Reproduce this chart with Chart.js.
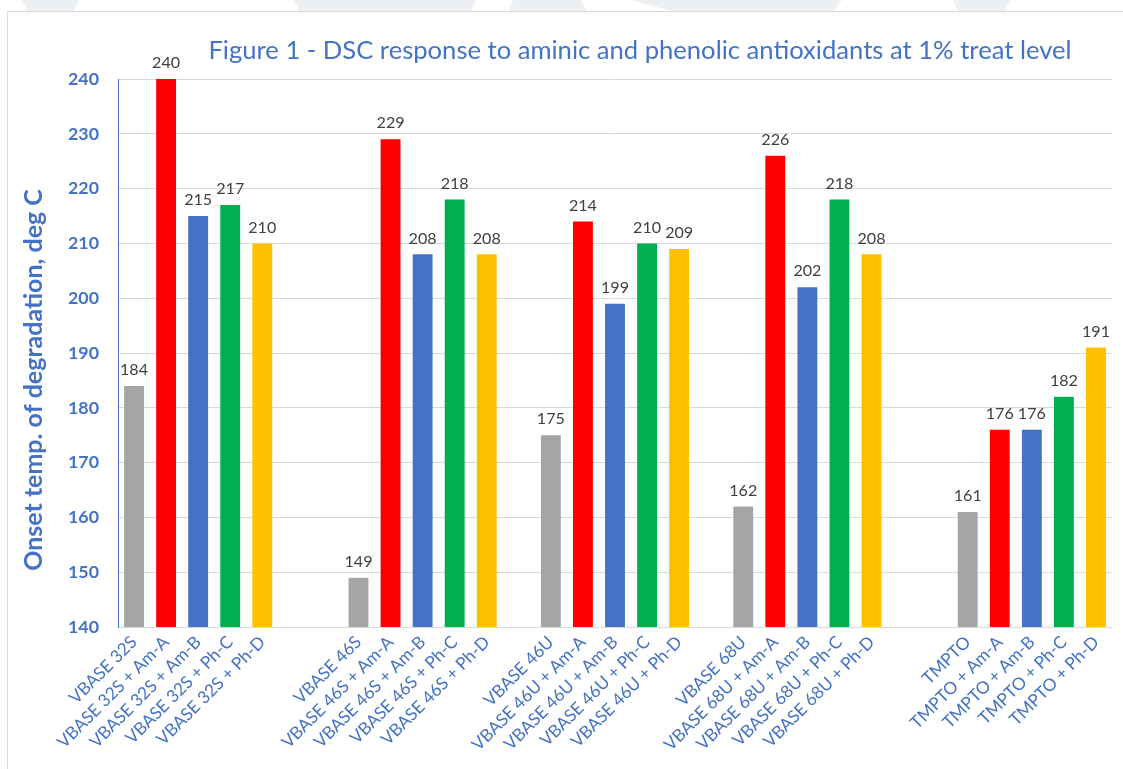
<!DOCTYPE html>
<html>
<head>
<meta charset="utf-8">
<script src="https://cdn.jsdelivr.net/npm/chart.js@4/dist/chart.umd.min.js"></script>
<style>
  html, body { margin: 0; padding: 0; width: 1123px; height: 769px; overflow: hidden; background: #ffffff; }
  #strip { position: absolute; left: 0; top: 0; width: 1123px; height: 11px; background: #ffffff; overflow: hidden; }
  .wm { position: absolute; top: 0; height: 11px; background: #edf0f3; }
  #frame { position: absolute; left: 7px; top: 11px; width: 1200px; height: 800px; border: 1.5px solid #d9d9d9; background: #ffffff; }
  #c { position: absolute; left: 0; top: 0; }
</style>
</head>
<body>
<div id="strip">
  <div class="wm" style="left:21px;width:58px;clip-path:polygon(0 0,100% 0,90% 100%,12% 100%);"></div>
  <div class="wm" style="left:294px;width:182px;clip-path:polygon(0 0,100% 0,97% 100%,3% 100%);"></div>
  <div class="wm" style="left:509px;width:78px;clip-path:polygon(5% 0,92% 0,100% 100%,0 100%);"></div>
  <div class="wm" style="left:630px;width:212px;clip-path:polygon(0 0,100% 0,96% 100%,20% 100%);"></div>
  <div class="wm" style="left:953px;width:57px;clip-path:polygon(0 0,100% 0,90% 100%,8% 100%);"></div>
</div>
<div id="frame"></div>
<canvas id="c" width="1123" height="769"></canvas>
<script>
// ---- data ----
const chartTitle = "Figure 1 - DSC response to aminic and phenolic antioxidants at 1% treat level";
const yAxisTitle = "Onset temp. of degradation, deg C";
const categories = [
  "VBASE 32S", "VBASE 32S + Am-A", "VBASE 32S + Am-B", "VBASE 32S + Ph-C", "VBASE 32S + Ph-D",
  "", "",
  "VBASE 46S", "VBASE 46S + Am-A", "VBASE 46S + Am-B", "VBASE 46S + Ph-C", "VBASE 46S + Ph-D",
  "",
  "VBASE 46U", "VBASE 46U + Am-A", "VBASE 46U + Am-B", "VBASE 46U + Ph-C", "VBASE 46U + Ph-D",
  "",
  "VBASE 68U", "VBASE 68U + Am-A", "VBASE 68U + Am-B", "VBASE 68U + Ph-C", "VBASE 68U + Ph-D",
  "", "",
  "TMPTO", "TMPTO + Am-A", "TMPTO + Am-B", "TMPTO + Ph-C", "TMPTO + Ph-D"
];
const onsetTemps = [
  184, 240, 215, 217, 210,
  null, null,
  149, 229, 208, 218, 208,
  null,
  175, 214, 199, 210, 209,
  null,
  162, 226, 202, 218, 208,
  null, null,
  161, 176, 176, 182, 191
];
const yMin = 140, yMax = 240, yStep = 10;

// ---- styles ----
const palette = { base: "#A5A5A5", "Am-A": "#FF0000", "Am-B": "#4472C4", "Ph-C": "#00B050", "Ph-D": "#FFC000" };
const blue = "#4472C4";
const fontFamily = "Lato, 'Open Sans', sans-serif";

// size a font so a sample text takes a given width (matches the reference's Calibri look)
const mctx = document.createElement("canvas").getContext("2d");
function fitSize(text, weight, target) {
  mctx.font = weight + " 100px " + fontFamily;
  return Math.round(100 * target / mctx.measureText(text).width * 10) / 10;
}
const titleSize = fitSize(chartTitle, "normal", 864);
const yTitleSize = fitSize(yAxisTitle, "bold", 381);
const xTickSize = fitSize("VBASE 32S + Am-A", "normal", 150);
const yTickSize = fitSize("240", "bold", 31);
const valueSize = fitSize("240", "normal", 28);

function colorFor(label) {
  const m = label.match(/\+ (.*)$/);
  return m ? palette[m[1]] : palette.base;
}

const dataLabels = {
  id: "dataLabels",
  afterDatasetsDraw(chart) {
    const ctx = chart.ctx;
    const meta = chart.getDatasetMeta(0);
    ctx.save();
    ctx.font = valueSize + "px " + fontFamily;
    ctx.fillStyle = "#404040";
    ctx.textAlign = "center";
    ctx.textBaseline = "bottom";
    meta.data.forEach((el, i) => {
      const v = chart.data.datasets[0].data[i];
      if (v === null || v === undefined) return;
      ctx.fillText(String(v), el.x, el.y - 8);
    });
    ctx.restore();
  }
};

const titles = {
  id: "titles",
  afterDraw(chart) {
    const ctx = chart.ctx;
    const a = chart.chartArea;
    ctx.save();
    ctx.fillStyle = blue;
    ctx.font = titleSize + "px " + fontFamily;
    ctx.textAlign = "center";
    ctx.textBaseline = "middle";
    ctx.fillText(chartTitle, (a.left + a.right) / 2 + 25, a.top - 28);
    ctx.translate(34, (a.top + a.bottom) / 2 + 27);
    ctx.rotate(-Math.PI / 2);
    ctx.font = "bold " + yTitleSize + "px " + fontFamily;
    ctx.fillText(yAxisTitle, 0, 0);
    ctx.restore();
  }
};

new Chart(document.getElementById("c"), {
  type: "bar",
  data: {
    labels: categories,
    datasets: [{
      data: onsetTemps,
      backgroundColor: (c) => colorFor(categories[c.dataIndex] || ""),
      borderWidth: 0,
      barPercentage: 0.62,
      categoryPercentage: 1.0
    }]
  },
  options: {
    responsive: false,
    animation: false,
    layout: { padding: { top: 79, right: 11, left: 0, bottom: 0 } },
    plugins: { legend: { display: false }, title: { display: false }, tooltip: { enabled: false } },
    scales: {
      x: {
        grid: { display: false, drawTicks: false },
        border: { display: true, color: "#d9d9d9", width: 1 },
        ticks: {
          autoSkip: false, minRotation: 45, maxRotation: 45, padding: 5,
          color: blue, font: { family: fontFamily, size: xTickSize }
        },
        afterFit(s) { s.height = 142; }
      },
      y: {
        min: yMin, max: yMax,
        grid: { color: "#d9d9d9", lineWidth: 1, drawTicks: false },
        border: { display: true, color: blue, width: 1 },
        ticks: {
          stepSize: yStep, padding: 19,
          color: blue, font: { family: fontFamily, size: yTickSize, weight: "bold" }
        },
        afterFit(s) { s.width = 118; }
      }
    }
  },
  plugins: [dataLabels, titles]
});
</script>
</body>
</html>
